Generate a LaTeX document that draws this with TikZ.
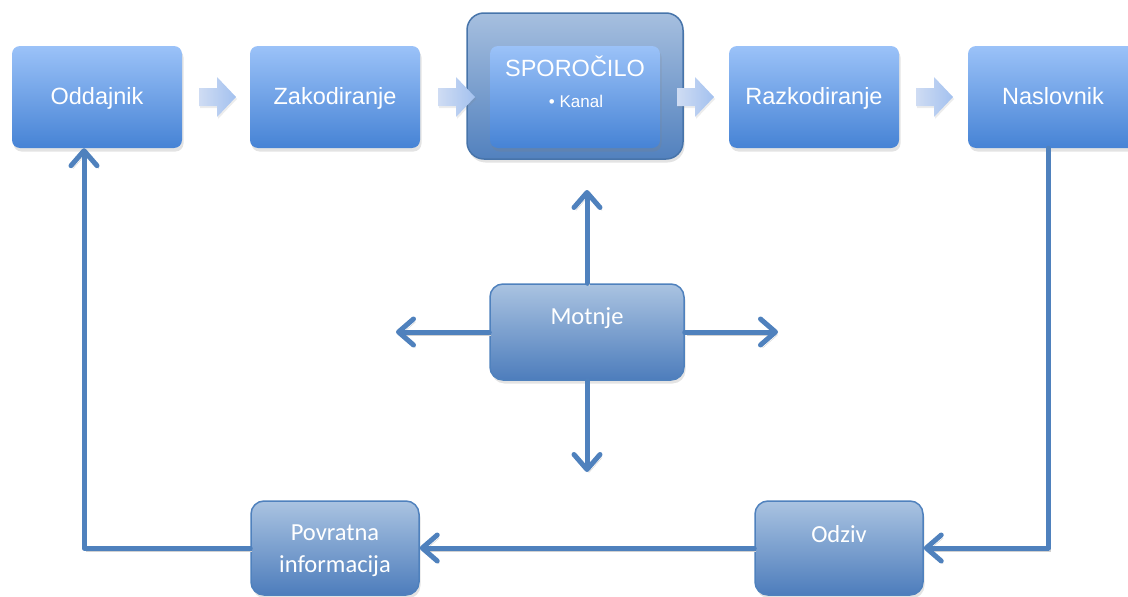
\documentclass[tikz,border=0pt]{standalone}
\usepackage{fontspec}
\setmainfont{Liberation Sans}
\newfontfamily\calfont{Carlito}
\usetikzlibrary{arrows.meta,shadows}

\definecolor{lineblue}{HTML}{4F81BD}
\definecolor{topLight}{HTML}{9BC2F8}
\definecolor{topDark}{HTML}{4683D5}
\definecolor{botLight}{HTML}{AAC3E1}
\definecolor{botDark}{HTML}{4D7DBC}
\definecolor{outLight}{HTML}{A6BFDF}
\definecolor{outDark}{HTML}{5281BE}
\definecolor{arrLight}{HTML}{CFDCF3}
\definecolor{arrDark}{HTML}{A3C1EF}

\begin{document}
\begin{tikzpicture}[x=1pt,y=-1pt,
  softshadow/.style={drop shadow={opacity=0.22,shadow xshift=1.5pt,shadow yshift=-3.5pt}},
  topbox/.style={rectangle,rounded corners=8pt,minimum width=170pt,minimum height=102pt,
    inner sep=0pt,top color=topLight,bottom color=topDark,softshadow},
  outerbox/.style={rectangle,rounded corners=17pt,minimum width=216pt,minimum height=146pt,
    inner sep=0pt,top color=outLight,bottom color=outDark,draw=lineblue!90!black,line width=1.5pt,softshadow},
  botbox/.style={rectangle,rounded corners=13pt,minimum width=168pt,minimum height=94pt,
    inner sep=0pt,top color=botLight,bottom color=botDark,draw=lineblue,line width=1.5pt,softshadow},
  toptext/.style={text=white,inner sep=0pt,anchor=base,font=\fontsize{23.5}{28}\selectfont},
  bottext/.style={text=white,inner sep=0pt,anchor=base,font=\calfont\fontsize{24.5}{32}\selectfont},
  conn/.style={draw=lineblue,line width=5pt,line cap=round,line join=round,
    -{Straight Barb[round,length=15pt,width=26pt]},
    preaction={draw=black!18,transform canvas={xshift=2pt,yshift=-3pt}}},
  blockarrow/.style={left color=arrLight,right color=arrDark,
    drop shadow={opacity=0.15,shadow xshift=1pt,shadow yshift=-2pt}}
]
\useasboundingbox (0,0) rectangle (1128,597);

% top row of stages
\node[topbox] (odd) at (97,97) {};
\node[toptext] (oddT) at (97,104) {Oddajnik};
\node[topbox] (zak) at (335,97) {};
\node[toptext] (zakT) at (335,104) {Zakodiranje};
\node[outerbox] (kanalOut) at (575,86) {};
\node[topbox] (spor) at (575,97) {};
\node[toptext] (sporT) at (575,76) {SPOROČILO};
\node[text=white,inner sep=0pt,anchor=base,font=\fontsize{17}{20}\selectfont] (kanT) at (576,107) {•\ Kanal};
\node[topbox] (razk) at (814,97) {};
\node[toptext] (razkT) at (814,104) {Razkodiranje};
\node[topbox] (nasl) at (1053,97) {};
\node[toptext] (naslT) at (1053,104) {Naslovnik};

% block arrows between the stages
\foreach \t in {236,475,714,953}
  \path[blockarrow] (\t-37,88) -- (\t-19,88) -- (\t-19,77) -- (\t,97)
    -- (\t-19,117) -- (\t-19,106) -- (\t-37,106) -- cycle;

% noise box and its arrows
\coordinate (nUp) at (587,190);
\coordinate (nDown) at (587,472);
\coordinate (nLeft) at (396,332);
\coordinate (nRight) at (778,332);
\node[botbox,minimum width=194pt,minimum height=96pt] (mot) at (587,332) {};
\node[bottext] (motT) at (587,324) {Motnje};
\draw[conn] (mot.north) -- (nUp);
\draw[conn] (mot.south) -- (nDown);
\draw[conn] (mot.west) -- (nLeft);
\draw[conn] (mot.east) -- (nRight);

% feedback loop
\node[botbox] (odz) at (839,548) {};
\node[bottext] (odzT) at (839,542) {Odziv};
\node[botbox] (povr) at (335,548) {};
\node[bottext] (povrT1) at (335,540) {Povratna};
\node[bottext] (povrT2) at (335,572) {informacija};

\draw[conn] ([xshift=-5pt]nasl.south) |- (odz.east);
\draw[conn] (odz.west) -- (povr.east);
\draw[conn] (povr.west) -| ([xshift=-13pt]odd.south);
\end{tikzpicture}
\end{document}
